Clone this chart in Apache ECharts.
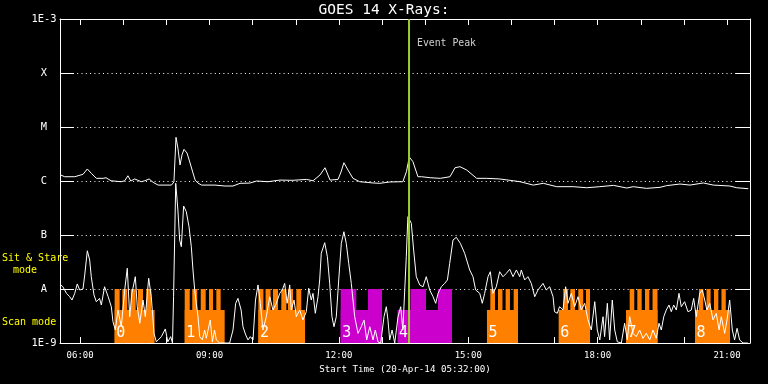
<!DOCTYPE html>
<html><head><meta charset="utf-8">
<script src="https://cdn.jsdelivr.net/npm/echarts@6/dist/echarts.min.js"></script>
<style>html,body{margin:0;padding:0;background:#000}#c{width:768px;height:384px}</style>
</head><body><div id="c"></div>
<script>
// Time in minutes since 00:00 on 20-Apr-14
const startMin = 332, endMin = 1292;
const hourTicks = [360,420,480,540,600,660,720,780,840,900,960,1020,1080,1140,1200,1260];
const labelTicks = [360,540,720,900,1080,1260];
const yTickLabels = {'-3':'1E-3','-4':'X','-5':'M','-6':'C','-7':'B','-8':'A','-9':'1E-9'};
const fluxMin = 1e-9, fluxMax = 1e-3;

// Long channel (1-8 A)
const longTimes = [333,338.5,352.5,364,370,375.5,382.5,392,396,403,417,422,426.5,430.5,436,445,450,456,461.5,468.5,487,490.5,493.4,496,499,501.7,504.5,508.7,513,517,520,524,529,547.6,561.6,572.7,582.4,596,605.7,621.4,638,656,675,684,693.7,700.7,707.7,718.8,723,727,732.6,739.6,749,767.5,777,791,809,814,818,823,830,835,847,861,874.6,881.6,888.5,897.8,911.7,925.7,944,962.7,972,990.5,1004.4,1023,1046,1064.7,1083,1102,1120.5,1129.6,1148,1166.8,1176,1194.6,1208.5,1227,1241,1264,1273.5,1289.6];
const longFlux = [1.29e-6,1.2e-6,1.2e-6,1.33e-6,1.67e-6,1.39e-6,1.12e-6,1.12e-6,1.15e-6,1.01e-6,9.7e-7,1.01e-6,1.25e-6,1.0e-6,1.09e-6,9.7e-7,1.01e-6,1.09e-6,9.45e-7,8.4e-7,8.4e-7,9.6e-7,6.45e-6,4.08e-6,1.98e-6,3.03e-6,3.86e-6,3.3e-6,2.15e-6,1.41e-6,1.04e-6,9.15e-7,8.4e-7,8.4e-7,8.07e-7,8.07e-7,9.06e-7,9.15e-7,1.0e-6,9.7e-7,1.04e-6,1.03e-6,1.07e-6,1.01e-6,1.29e-6,1.76e-6,1.04e-6,1.07e-6,1.47e-6,2.18e-6,1.6e-6,1.12e-6,9.7e-7,9.2e-7,9.06e-7,9.6e-7,9.7e-7,1.49e-6,2.78e-6,2.28e-6,1.2e-6,1.2e-6,1.15e-6,1.12e-6,1.2e-6,1.76e-6,1.84e-6,1.6e-6,1.12e-6,1.12e-6,1.09e-6,1.01e-6,9.7e-7,8.4e-7,9.06e-7,7.85e-7,7.85e-7,7.5e-7,7.85e-7,8.3e-7,7.41e-7,7.85e-7,7.3e-7,7.63e-7,8.2e-7,8.79e-7,8.4e-7,9.2e-7,8.4e-7,8.07e-7,7.5e-7,7.2e-7];

// Short channel (0.5-4 A)
const shortTimes = [333,336,341,345.5,348.7,352.5,356,359.4,364,366.4,370,373.3,375.5,379.3,382.5,387,389.5,394,399,403.4,405.7,409,412.7,417.3,422,425.6,429,432,436.8,439.5,443,447.5,450.7,455.4,459,462.8,466,468.3,473,478.5,482,486,488.5,490,493,496,498.5,500.8,504,507.7,511.5,514.7,517,519.4,521.6,524,526.4,530,533.3,535.5,541,544,547,549.5,554,568,572.7,576.4,579.6,584,586.6,590.4,593.6,596.8,600.5,604,607.5,610.7,614.4,619,623.8,628.3,633,637.7,641.3,644.6,648,651.6,653.8,657.6,660.8,665.5,670,674.7,678,681.6,684,687.2,691,693.3,695.5,700.3,704,707.2,710.4,713.2,716.4,719.8,723.4,727,730.3,733.7,737.3,742,746.6,751.2,755,758.7,763,767.5,770.7,774.4,778.2,782.8,786,788.3,790.7,794,797.7,802.3,806,809,811.5,813.8,816,820.8,824,827.7,832.4,837,841.6,846.4,851,854.7,858,862.5,867.2,871,874.2,878.8,883.4,889,895,902,906.6,910.3,916,919.5,922.8,927.5,930.7,934.4,939,943.7,948.4,953,957.7,962.3,967,971.6,973.8,978.5,983,987.7,992.5,997,1004,1008.6,1013.3,1018,1020,1023.9,1027,1031.8,1035.5,1038.8,1043.4,1048,1052.7,1057.3,1062,1066.6,1071.2,1076,1079.5,1083,1087.5,1089.7,1093.5,1096.7,1100.4,1103.8,1107.4,1113,1117.6,1121.3,1124.6,1129.2,1133.8,1138.5,1143,1147.7,1152.5,1157,1161.6,1165.4,1168.6,1172,1175.5,1179.3,1182.5,1185.8,1189.5,1193.2,1196.4,1201,1205.7,1210.3,1213.6,1217.3,1222,1225.6,1229,1232,1236,1240.5,1245,1249,1252,1256.8,1260,1263.7,1267.4,1270.6,1274,1277.6,1282.3,1289];
const shortFlux = [1.19e-8,1.1e-8,8.3e-9,7.2e-9,6.25e-9,8.3e-9,1.24e-8,9.6e-9,1.0e-8,1.82e-8,
5.1e-8,3.44e-8,1.69e-8,7.75e-9,5.82e-9,6.7e-9,5.05e-9,1.1e-8,7.2e-9,4.7e-9,
2.48e-9,1.74e-9,4.08e-9,2.0e-9,9.6e-9,2.42e-8,3.07e-9,8.3e-9,1.69e-8,4.7e-9,
2.32e-9,6.25e-9,3.07e-9,1.58e-8,7.2e-9,1.51e-9,1.05e-9,1e-9,1.31e-9,1.82e-9,
1.05e-9,1.31e-9,1e-9,7.2e-9,9.06e-7,2.9e-7,8.07e-8,6.07e-8,3.44e-7,2.7e-7,
1.42e-7,6.07e-8,2.25e-8,9.6e-9,5.43e-9,3.07e-9,1.31e-9,1.14e-9,1.74e-9,1.22e-9,
2.67e-9,1.05e-9,1.74e-9,1.14e-9,1e-9,1e-9,1.74e-9,5.43e-9,6.7e-9,4.08e-9,
2.0e-9,1.41e-9,1.14e-9,1.31e-9,1.14e-9,6.25e-9,1.19e-8,5.43e-9,1.74e-9,3.07e-9,
7.2e-9,4.08e-9,5.43e-9,8.3e-9,9.6e-9,1.27e-8,5.43e-9,1.19e-8,4.08e-9,6.25e-9,
3.07e-9,4.08e-9,2.67e-9,3.8e-9,1.03e-8,6.25e-9,8.3e-9,3.55e-9,7.2e-9,1.47e-8,
4.58e-8,7.2e-8,3.96e-8,1.27e-8,3.07e-9,2.0e-9,3.07e-9,1.47e-8,7.0e-8,1.15e-7,
7.0e-8,2.99e-8,1.27e-8,3.07e-9,1.51e-9,2.0e-9,2.67e-9,1.14e-9,2.0e-9,1.14e-9,
1.74e-9,1.05e-9,1e-9,3.07e-9,4.7e-9,2.67e-9,1.14e-9,1.74e-9,1e-9,3.07e-9,
4.7e-9,1.74e-9,1.74e-9,3.96e-8,2.18e-7,1.65e-7,5.27e-8,1.69e-8,1.19e-8,1.1e-8,
1.69e-8,9.6e-9,7.2e-9,5.43e-9,8.3e-9,1.1e-8,1.27e-8,1.47e-8,2.99e-8,8.07e-8,
9.06e-8,7.0e-8,4.58e-8,2.25e-8,1.69e-8,9.6e-9,8.3e-9,5.43e-9,8.3e-9,1.69e-8,
2.09e-8,8.3e-9,1.1e-8,2.09e-8,1.69e-8,1.95e-8,2.32e-8,1.69e-8,2.25e-8,1.69e-8,
2.25e-8,1.47e-8,1.69e-8,1.27e-8,7.2e-9,9.6e-9,1.27e-8,9.6e-9,1.1e-8,7.2e-9,
3.8e-9,3.55e-9,4.7e-9,4.08e-9,1.1e-8,5.43e-9,8.3e-9,4.7e-9,7.2e-9,4.08e-9,
5.43e-9,2.67e-9,1.74e-9,5.82e-9,1.74e-9,1.14e-9,3.07e-9,1.31e-9,5.43e-9,1.14e-9,
6.25e-9,1.74e-9,1.05e-9,1e-9,2.32e-9,1.14e-9,3.07e-9,1.51e-9,1.31e-9,1.74e-9,
1.22e-9,1.51e-9,1.14e-9,1.74e-9,1.22e-9,2.32e-9,1.74e-9,3.07e-9,4.08e-9,5.05e-9,
3.8e-9,5.05e-9,4.08e-9,8.3e-9,4.7e-9,5.82e-9,3.8e-9,4.08e-9,6.7e-9,3.07e-9,
8.3e-9,9.6e-9,6.25e-9,4.08e-9,5.43e-9,2.67e-9,3.55e-9,1.74e-9,3.07e-9,1.51e-9,
2.67e-9,6.25e-9,1.74e-9,1.14e-9,1.87e-9,1.14e-9,1e-9,1e-9];

// Observation blocks
const blockLabels = ['0','1','2','3','4','5','6','7','8'];
const blockStart = [408,505.5,608,722.5,801.6,926,1025.8,1119.5,1215.5];
const blockEnd = [463.6,561.1,672.9,780,877.4,969.2,1069.4,1163.3,1264.2];
const blockMode = ['scan','scan','scan','stare','stare','scan','scan','scan','scan'];
const raisedSegments = [
  [[408,415],[418.7,425.6],[430.4,437.3],[440.5,447.5],[452,459]],
  [[505.5,512.5],[516,523],[527.8,534.7],[539.3,545],[549.5,555.5]],
  [[608,615],[618,625],[628.3,635.3],[639.9,646.9],[649.2,656.2],[660.8,667.7]],
  [[722.5,744.2],[760.5,780]],
  [[819.6,841.2],[857.9,877.4]],
  [[930.7,937.2],[941.4,947.6],[952,958],[963.2,969.2]],
  [[1032.2,1038.8],[1042,1048.5],[1053.1,1060],[1063.8,1069.4]],
  [[1124.6,1131],[1135.2,1141.3],[1145.9,1151.9],[1156.4,1163.3]],
  [[1221,1227],[1231.5,1237.2],[1241.9,1247.9],[1252.3,1258.3]]
];
const scanLevel = 4.1e-9, stareLevel = 1e-8;
const eventPeak = 817.6;
const eventLabelFlux = 3.6e-4;

const modeColor = {scan:'#ff8000', stare:'#cc00cc'};
const FONT = '"DejaVu Sans Mono", monospace';

const blockRects = [];
blockStart.forEach((s,b)=>{
  blockRects.push([s, blockEnd[b], scanLevel, b]);
  raisedSegments[b].forEach(seg=>blockRects.push([seg[0], seg[1], stareLevel, b]));
});
const blockLabelData = blockStart.map((s,b)=>[s, fluxMin, b]);
const longData = longTimes.map((t,i)=>[t,longFlux[i]]);
const shortData = shortTimes.map((t,i)=>[t,shortFlux[i]]);
const pad = n => (n<10?'0':'')+n;

const chart = echarts.init(document.getElementById('c'), null, {renderer:'canvas'});
const xCommon = {type:'value', min:startMin, max:endMin, splitLine:{show:false},
  axisLine:{lineStyle:{color:'#fff', width:1}}};
const yCommon = {type:'log', logBase:10, min:fluxMin, max:fluxMax, splitNumber:6,
  axisLine:{show:true, lineStyle:{color:'#fff', width:1}}};
chart.setOption({
  animation:false,
  backgroundColor:'#000',
  title:{text:'GOES 14 X-Rays:', left:'center', top:-2,
    textStyle:{color:'#fff', fontSize:14.5, fontWeight:'normal', fontFamily:FONT}},
  grid:{left:60, right:18, top:19, bottom:41, containLabel:false},
  xAxis:[
    Object.assign({}, xCommon, {position:'bottom',
      name:'Start Time (20-Apr-14 05:32:00)', nameLocation:'middle', nameGap:22,
      nameTextStyle:{color:'#fff', fontSize:9.2, fontFamily:FONT},
      axisTick:{inside:true, length:6, lineStyle:{color:'#fff'}, customValues:hourTicks},
      axisLabel:{color:'#fff', fontSize:9, fontFamily:FONT, margin:8, customValues:labelTicks,
        formatter:v=>pad(Math.round(v/60))+':00'}}),
    Object.assign({}, xCommon, {position:'top',
      axisTick:{inside:true, length:6, lineStyle:{color:'#fff'}, customValues:hourTicks},
      axisLabel:{show:false}})
  ],
  yAxis:[
    Object.assign({}, yCommon, {position:'left',
      axisTick:{inside:true, length:14, lineStyle:{color:'#fff'}},
      splitLine:{show:true, lineStyle:{color:'#fff', type:[1,3.3], width:1}},
      axisLabel:{color:'#fff', fontSize:10.4, fontFamily:FONT, align:'center', margin:16,
        formatter:v=>yTickLabels[String(Math.round(Math.log10(v)))]||''}}),
    Object.assign({}, yCommon, {position:'right',
      axisTick:{inside:true, length:14, lineStyle:{color:'#fff'}},
      splitLine:{show:false}, axisLabel:{show:false}})
  ],
  graphic:[
    {type:'text', left:2, top:253, style:{text:'Sit & Stare', fill:'#ffff00', font:'10px '+FONT}},
    {type:'text', left:13, top:265, style:{text:'mode', fill:'#ffff00', font:'10px '+FONT}},
    {type:'text', left:2, top:317, style:{text:'Scan mode', fill:'#ffff00', font:'10px '+FONT}}
  ],
  series:[
    {type:'custom', name:'blocks', z:1, clip:true, data:blockRects,
      encode:{x:[0,1], y:2},
      renderItem:(params, api)=>{
        const b = api.value(3);
        const p0 = api.coord([api.value(0), api.value(2)]);
        const p1 = api.coord([api.value(1), fluxMin]);
        return {type:'rect', shape:{x:p0[0], y:p0[1], width:p1[0]-p0[0], height:p1[1]-p0[1]},
          style:{fill:modeColor[blockMode[b]]}};
      }},
    {type:'line', name:'long', z:3, data:longData, showSymbol:false, symbol:'none',
      lineStyle:{color:'#fff', width:1}},
    {type:'line', name:'short', z:3, data:shortData, showSymbol:false, symbol:'none',
      lineStyle:{color:'#fff', width:1}},
    {type:'line', name:'peak', z:4, data:[[eventPeak, fluxMin],[eventPeak, fluxMax]],
      showSymbol:false, symbol:'none', lineStyle:{color:'#9acd32', width:2}},
    {type:'scatter', name:'peakLabel', z:5, data:[[eventPeak, eventLabelFlux]], symbolSize:0,
      label:{show:true, position:'right', distance:8, formatter:'Event Peak',
        color:'#fff', fontSize:9.8, fontFamily:FONT}},
    {type:'custom', name:'blockLabels', z:6, data:blockLabelData, encode:{x:0, y:1},
      renderItem:(params, api)=>{
        const p = api.coord([api.value(0), api.value(1)]);
        return {type:'text', x:p[0]+1.5, y:p[1]-2,
          style:{text:blockLabels[api.value(2)], fill:'#fff', font:'15px '+FONT,
            align:'left', verticalAlign:'bottom'}};
      }}
  ]
});
</script></body></html>
